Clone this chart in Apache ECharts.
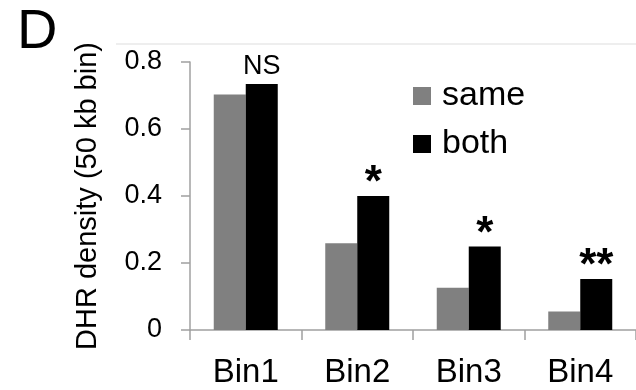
<!DOCTYPE html>
<html>
<head>
<meta charset="utf-8">
<style>
  html, body { margin: 0; padding: 0; background: #fff; }
  #chart { width: 636px; height: 390px; }
</style>
<script src="https://cdn.jsdelivr.net/npm/echarts@6/dist/echarts.min.js"></script>
</head>
<body>
<div id="chart"></div>
<script>
// DHR density per 50 kb bin, split by orientation group
const categories = ['Bin1', 'Bin2', 'Bin3', 'Bin4'];
const sameValues = [0.703, 0.259, 0.126, 0.055];
const bothValues = [0.734, 0.400, 0.249, 0.152];
const significance = ['NS', '*', '*', '**'];
const yTicks = { min: 0, max: 0.8, step: 0.2 };

const FONT = '"Liberation Sans", Arial, Helvetica, sans-serif';

const chart = echarts.init(document.getElementById('chart'), null, { renderer: 'canvas' });

chart.setOption({
  backgroundColor: '#ffffff',
  animation: false,
  textStyle: { fontFamily: FONT, color: '#000' },
  grid: { left: 190, top: 62, bottom: 60, width: 458, containLabel: false },
  legend: {
    orient: 'vertical',
    left: 408,
    top: 74,
    itemWidth: 18,
    itemHeight: 18,
    itemGap: 14,
    icon: 'rect',
    textStyle: { fontFamily: FONT, fontSize: 34, color: '#000', padding: [0, 0, 0, 6] },
    data: ['same', 'both']
  },
  xAxis: {
    type: 'category',
    data: categories,
    axisLine: { lineStyle: { color: '#a0a0a0', width: 1.5 } },
    axisTick: { show: true, alignWithLabel: false, length: 10, lineStyle: { color: '#a0a0a0', width: 1.5 } },
    axisLabel: { fontFamily: FONT, fontSize: 33, color: '#000', margin: 26 }
  },
  yAxis: {
    type: 'value',
    min: yTicks.min,
    max: yTicks.max,
    interval: yTicks.step,
    name: 'DHR density (50 kb bin)',
    nameLocation: 'middle',
    nameGap: 88,
    nameTextStyle: { fontFamily: FONT, fontSize: 29, color: '#000' },
    axisLine: { show: true, lineStyle: { color: '#a0a0a0', width: 1.5 } },
    axisTick: { show: true, length: 9, lineStyle: { color: '#a0a0a0', width: 1.5 } },
    splitLine: { show: false },
    axisLabel: { fontFamily: FONT, fontSize: 27, color: '#000', margin: 28 }
  },
  series: [
    {
      name: 'same',
      type: 'bar',
      data: sameValues,
      barWidth: 32,
      barGap: '0%',
      itemStyle: { color: '#808080' }
    },
    {
      name: 'both',
      type: 'bar',
      data: bothValues,
      barWidth: 32,
      barGap: '0%',
      itemStyle: { color: '#000000' },
      label: {
        show: true,
        position: 'top',
        distance: 4,
        formatter: p => {
          const s = significance[p.dataIndex];
          return s === 'NS' ? '{ns|NS}' : '{star|' + s + '}';
        },
        rich: {
          ns: { fontFamily: FONT, fontSize: 27, color: '#000', padding: [0, 0, 0, 0] },
          star: { fontFamily: FONT, fontSize: 44, fontWeight: 'bold', color: '#000', padding: [0, 0, -14, 0] }
        }
      }
    }
  ],
  graphic: [
    {
      type: 'line',
      shape: { x1: 116, y1: 44, x2: 636, y2: 44 },
      style: { stroke: '#dddddd', lineWidth: 1 }
    },
    {
      type: 'text',
      left: 17,
      top: 5,
      style: { text: 'D', font: '56px ' + FONT, fill: '#000' }
    }
  ]
});
</script>
</body>
</html>
